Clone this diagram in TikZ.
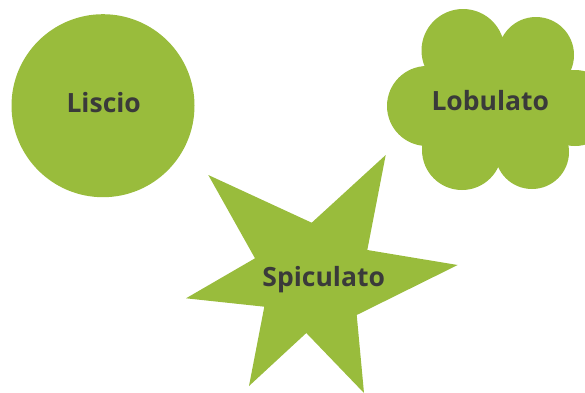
\documentclass[tikz,border=0pt]{standalone}
\usepackage{fontspec}
\setmainfont{Open Sans}
\definecolor{leaf}{HTML}{99BC3C}
\definecolor{ink}{HTML}{3A3A3A}
\begin{document}
\begin{tikzpicture}[x=1pt,y=-1pt,
  label/.style={text=ink,font=\fontsize{26.5}{30}\selectfont\bfseries,anchor=base,inner sep=0pt}]
\useasboundingbox (0,0) rectangle (585,392);
\clip (0,0) rectangle (585,392);
% smooth circle
\fill[leaf] (103,105.7) circle (91.5);
% lobed cloud
\fill[leaf] (463,50.5) circle (41.5)
  (536,55) circle (38)
  (427,106) circle (40)
  (575,108) circle (38)
  (462,150) circle (40)
  (532,152) circle (37)
  (497,103) circle (50);
% spiculated star
\fill[leaf] (208.3,175) -- (311.7,222.7) -- (385.7,155) -- (367.3,250)
  -- (457.7,265) -- (356.7,315) -- (364,393) -- (306.3,333)
  -- (249,386) -- (264.3,306.7) -- (186,298.3) -- (255,258.3) -- cycle;
\node[label] (liscio) at (103.7,112.7) {Liscio};
\node[label] (lobulato) at (490.3,110.7) {Lobulato};
\node[label] (spiculato) at (323.7,286.5) {Spiculato};
\end{tikzpicture}
\end{document}
